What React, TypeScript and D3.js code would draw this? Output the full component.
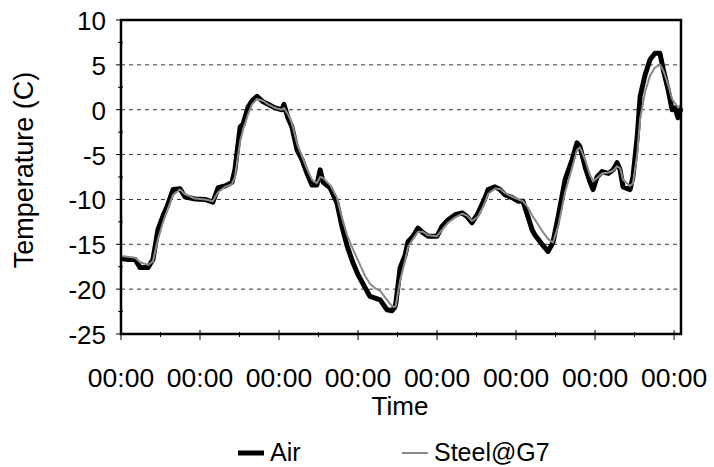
import React from "react";
import * as d3 from "d3";

// Time in hours from start
const hours = [
  0, 2.1, 4.3, 5.8, 8.2, 9.7, 11.2, 12.8, 14.0, 15.8, 17.9, 19.4, 22.5, 25.5, 27.9, 29.5, 31.6, 33.7, 34.6, 36.2,
  37.1, 38.6, 39.8, 41.3, 43.1, 44.7, 46.8, 48.9, 49.5, 50.7, 51.9, 53.5, 55.0, 56.5, 58.0, 59.5, 60.5, 61.4, 63.5, 65.6,
  67.1, 68.7, 70.5, 72.0, 74.1, 75.6, 77.2, 78.7, 80.8, 82.3, 83.2, 83.5, 84.8, 86.3, 87.2, 88.7, 90.2, 91.7, 93.3, 96.0,
  97.5, 99.3, 101.5, 103.6, 105.1, 106.6, 108.5, 110.6, 111.5, 113.6, 115.1, 116.7, 118.8, 120.6, 122.1, 123.6, 124.9, 125.8, 127.9, 129.7,
  131.2, 132.8, 134.9, 137.0, 138.5, 139.4, 141.0, 142.5, 143.4, 144.6, 146.1, 148.0, 149.5, 150.7, 151.6, 152.5, 154.6, 155.5, 156.8, 157.7,
  159.2, 160.7, 162.2, 163.7, 164.7, 166.2, 167.4, 168.3, 169.2, 170.1,
];

const air = [
  -16.6, -16.7, -16.7, -17.6, -17.6, -16.7, -13.4, -11.8, -10.8, -8.9, -8.8, -9.7, -9.95, -10.0, -10.3, -8.7, -8.5, -8.1, -6.7, -1.9,
  -1.6, 0.3, 1.0, 1.5, 0.9, 0.6, 0.2, 0.0, 0.6, -0.9, -1.9, -4.5, -5.6, -7.1, -8.4, -8.4, -6.7, -8.1, -8.7, -10.4,
  -13.0, -15.2, -17.1, -18.4, -19.8, -20.8, -21.0, -21.2, -22.3, -22.4, -22.0, -21.5, -17.6, -16.2, -14.7, -14.1, -13.2, -13.7, -14.1, -14.1,
  -13.0, -12.3, -11.7, -11.5, -11.9, -12.6, -11.5, -9.8, -8.9, -8.6, -8.9, -9.5, -9.8, -10.2, -10.2, -11.9, -13.4, -14.0, -15.0, -15.8,
  -14.8, -11.9, -7.8, -5.6, -3.7, -4.1, -6.4, -8.1, -8.9, -7.5, -6.9, -7.1, -6.7, -5.9, -6.7, -8.6, -8.9, -7.5, -3.0, 1.5,
  3.9, 5.6, 6.3, 6.3, 4.5, 2.2, 0.0, 0.2, -0.9, 0.2,
];

const steel = [
  -16.3, -16.4, -16.5, -17.0, -17.3, -16.9, -14.5, -12.5, -11.3, -9.5, -8.9, -9.4, -9.9, -10.0, -10.2, -9.2, -8.6, -8.3, -7.5, -3.5,
  -2.2, -0.5, 0.6, 1.2, 1.0, 0.6, 0.2, 0.0, 0.2, -0.5, -1.5, -3.8, -5.2, -6.6, -7.8, -8.2, -7.5, -7.6, -8.4, -9.8,
  -12.0, -14.0, -15.6, -16.8, -18.5, -19.4, -19.9, -20.2, -21.2, -21.9, -22.0, -21.8, -19.0, -16.8, -15.3, -14.4, -13.6, -13.6, -14.0, -14.1,
  -13.4, -12.6, -12.0, -11.6, -11.8, -12.4, -11.9, -10.3, -9.4, -8.8, -8.8, -9.3, -9.7, -10.0, -10.2, -10.9, -11.8, -12.3, -13.5, -14.4,
  -14.8, -13.0, -9.2, -6.5, -4.5, -4.2, -5.6, -7.3, -8.0, -7.6, -7.1, -7.0, -6.8, -6.3, -6.5, -7.8, -8.5, -8.2, -5.0, -1.0,
  2.0, 3.8, 4.7, 5.0, 4.4, 2.8, 1.2, 0.7, 0.3, 0.5,
];

const yTicks = [10, 5, 0, -5, -10, -15, -20, -25];
const yMinorTicks = [7.5, 2.5, -2.5, -7.5, -12.5, -17.5, -22.5];
const seriesNames = ["Air", "Steel@G7"];

const W = 714;
const H = 467;
const left = 121;
const right = 681;
const top = 20;
const bottom = 334;
const FONT = "'Liberation Sans', Arial, sans-serif";

export default function App() {
  const t0 = Date.UTC(2000, 0, 1);
  const toDate = (h: number) => new Date(t0 + h * 3600 * 1000);
  const x = d3.scaleUtc().domain([toDate(0), toDate(170.1)]).range([left, right]);
  const y = d3.scaleLinear().domain([-25, 10]).range([bottom, top]);
  const majorX = d3.utcDay.range(toDate(0), toDate(170.2));
  const minorX = d3.utcHour.every(12)!.range(toDate(0), toDate(170.2)).filter((d) => d.getUTCHours() === 12);
  const fmt = d3.utcFormat("%H:%M");

  const line = d3
    .line<number>()
    .x((_, i) => x(toDate(hours[i])))
    .y((d) => y(d));

  return (
    <svg width={W} height={H} style={{ position: "absolute", left: 0, top: 0, background: "#fff" }} fontFamily={FONT}>
      <rect x={0} y={0} width={W} height={H} fill="#fff" />
      {yTicks
        .filter((v) => v > -25 && v < 10)
        .map((v) => (
          <line key={"g" + v} x1={left} x2={right} y1={y(v)} y2={y(v)} stroke="#333" strokeWidth={1} strokeDasharray="4,4" />
        ))}
      {yTicks.map((v) => (
        <g key={"yt" + v}>
          <line x1={left - 5} x2={left} y1={y(v)} y2={y(v)} stroke="#000" strokeWidth={1} />
          <text x={106} y={y(v) + 10} textAnchor="end" fontSize={26} fill="#000">
            {v}
          </text>
        </g>
      ))}
      {yMinorTicks.map((v) => (
        <line key={"ym" + v} x1={left - 3} x2={left + 2} y1={y(v)} y2={y(v)} stroke="#000" strokeWidth={1} />
      ))}
      {majorX.map((d, i) => (
        <g key={"xt" + i}>
          <line x1={x(d)} x2={x(d)} y1={bottom - 4} y2={bottom + 6} stroke="#000" strokeWidth={1} />
          <text x={x(d)} y={387} textAnchor="middle" fontSize={26.5} fill="#000">
            {fmt(d)}
          </text>
        </g>
      ))}
      {minorX.map((d, i) => (
        <line key={"xm" + i} x1={x(d)} x2={x(d)} y1={bottom - 2} y2={bottom + 3} stroke="#000" strokeWidth={1} />
      ))}
      <path d={line(air) || ""} fill="none" stroke="#000" strokeWidth={5} strokeLinejoin="round" />
      <path d={line(steel) || ""} fill="none" stroke="#8a8a8a" strokeWidth={2} strokeLinejoin="round" />
      <rect x={left} y={top} width={right - left} height={bottom - top} fill="none" stroke="#000" strokeWidth={2.5} />
      <text x={400} y={415} textAnchor="middle" fontSize={26} fill="#000">
        Time
      </text>
      <text transform={`translate(33,170) rotate(-90)`} textAnchor="middle" fontSize={27} fill="#000">
        Temperature (C)
      </text>
      <line x1={238} x2={264} y1={453} y2={453} stroke="#000" strokeWidth={5} />
      <text x={270} y={461} fontSize={25} fill="#000">
        {seriesNames[0]}
      </text>
      <line x1={402} x2={428} y1={453} y2={453} stroke="#8a8a8a" strokeWidth={2} />
      <text x={434} y={461} fontSize={25} fill="#000">
        {seriesNames[1]}
      </text>
    </svg>
  );
}
